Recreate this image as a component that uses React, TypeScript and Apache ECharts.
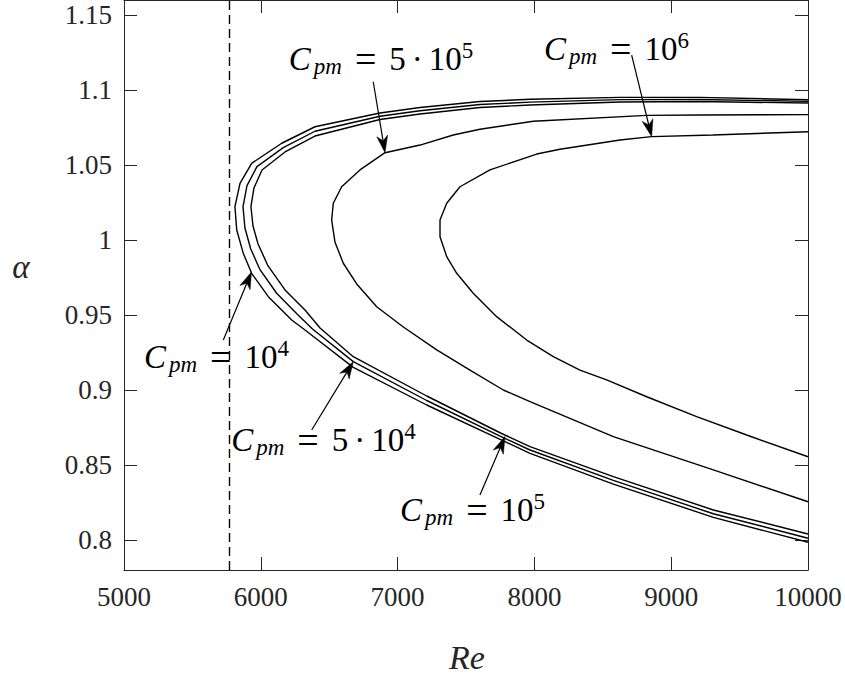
import React, { useEffect, useRef } from "react";
import * as echarts from "echarts";

// ---- axis ticks ----
const xTicks = [5000, 6000, 7000, 8000, 9000, 10000];
const yTicks = [0.8, 0.85, 0.9, 0.95, 1, 1.05, 1.1, 1.15];
const criticalRe = 5772;

// ---- neutral curves (Re, alpha) ----
const re1e4 = [10000, 9210, 8626, 7968, 7602, 7164, 6871, 6396, 6153, 5933, 5848, 5811, 5824, 5872, 5933, 6055, 6226, 6323, 6676, 7213, 7749, 7968, 8577, 9308, 10000];
const alpha1e4 = [1.0935, 1.0951, 1.0951, 1.0938, 1.0923, 1.0883, 1.0847, 1.0755, 1.0645, 1.0511, 1.0378, 1.0222, 1.0067, 0.9911, 0.9778, 0.9622, 0.9467, 0.94, 0.9151, 0.89, 0.8671, 0.8578, 0.8373, 0.8151, 0.7985];

const re5e4 = [10000, 9210, 8626, 7968, 7602, 7164, 6871, 6396, 6164, 5972, 5899, 5870, 5884, 5926, 5994, 6116, 6272, 6378, 6676, 7213, 7749, 7968, 8577, 9308, 10000];
const alpha5e4 = [1.0924, 1.0937, 1.0936, 1.0919, 1.0903, 1.0862, 1.0825, 1.0725, 1.0616, 1.0489, 1.0363, 1.0222, 1.008, 0.9942, 0.9802, 0.9645, 0.95, 0.9407, 0.9189, 0.893, 0.8693, 0.86, 0.8398, 0.8175, 0.8012];

const re1e5 = [10000, 9210, 8626, 7968, 7602, 7164, 6871, 6396, 6177, 6009, 5950, 5928, 5943, 5980, 6053, 6177, 6323, 6433, 6676, 7213, 7749, 7968, 8577, 9308, 10000];
const alpha1e5 = [1.0913, 1.0923, 1.092, 1.09, 1.0883, 1.084, 1.0803, 1.0693, 1.0587, 1.0467, 1.0347, 1.0222, 1.0093, 0.9973, 0.9827, 0.9667, 0.9533, 0.9413, 0.9222, 0.896, 0.8715, 0.8622, 0.8422, 0.82, 0.804];

const re5e5 = [10000, 9210, 8821, 7992, 7602, 7407, 7164, 6908, 6725, 6591, 6530, 6518, 6542, 6603, 6701, 6847, 7042, 7286, 7529, 7773, 7968, 8577, 9308, 10000];
const alpha5e5 = [1.0836, 1.0833, 1.0831, 1.0792, 1.0738, 1.07, 1.0633, 1.0582, 1.0467, 1.0355, 1.0245, 1.0133, 0.9987, 0.9845, 0.9707, 0.9555, 0.942, 0.9267, 0.9133, 0.9, 0.8922, 0.8689, 0.8467, 0.8255];

const re1e6 = [10000, 9305, 8857, 8626, 8187, 8017, 7675, 7456, 7359, 7310, 7310, 7359, 7432, 7553, 7724, 7944, 8138, 8333, 8528, 8821, 9186, 9552, 10000];
const alpha1e6 = [1.0722, 1.07, 1.0689, 1.0667, 1.0605, 1.0573, 1.0467, 1.0355, 1.0245, 1.0133, 1.0022, 0.9889, 0.9778, 0.9645, 0.9489, 0.9333, 0.9222, 0.9133, 0.9067, 0.8955, 0.8822, 0.87, 0.8555];

const curveNames = ["Cpm = 1e4", "Cpm = 5e4", "Cpm = 1e5", "Cpm = 5e5", "Cpm = 1e6"];
const curveRe = [re1e4, re5e4, re1e5, re5e5, re1e6];
const curveAlpha = [alpha1e4, alpha5e4, alpha1e5, alpha5e5, alpha1e6];

// ---- annotations (data coordinates) ----
const annotMantissa = ["", "5", "", "5", ""];
const annotExponent = ["4", "4", "5", "5", "6"];
const labelRe = [5676, 6458, 7548, 6879, 8600];
const labelAlpha = [0.922, 0.867, 0.8197, 1.1207, 1.1273];
const arrowTailRe = [5726, 6372, 7602, 6822, 8711];
const arrowTailAlpha = [0.9333, 0.8733, 0.83, 1.1055, 1.1233];
const arrowTipRe = [5932, 6676, 7785, 6908, 8857];
const arrowTipAlpha = [0.9787, 0.9189, 0.869, 1.0582, 1.0689];

const SERIF = "Liberation Serif";
const INK = "#000000";
const AXIS = "#262626";

const zip = (xs: number[], ys: number[]) => xs.map((x, i) => [x, ys[i]]);

const rich: any = {
  c: { fontFamily: SERIF, fontStyle: "italic", fontSize: 33, lineHeight: 40, fill: INK, color: INK, padding: [0, 3, 0, 0] },
  s: { fontFamily: SERIF, fontStyle: "italic", fontSize: 23, fill: INK, color: INK, verticalAlign: "bottom", padding: [0, 0, 1, 0] },
  eq: { fontFamily: SERIF, fontSize: 38, lineHeight: 40, fill: INK, color: INK, padding: [0, 13, 0, 13] },
  n: { fontFamily: SERIF, fontSize: 33, lineHeight: 40, fill: INK, color: INK },
  dot: { fontFamily: SERIF, fontSize: 33, lineHeight: 40, fill: INK, color: INK, padding: [0, 6, 0, 6] },
  e: { fontFamily: SERIF, fontSize: 23, fill: INK, color: INK, verticalAlign: "top", padding: [0, 0, 0, 0] },
};

const labelText = (m: string, e: string) =>
  "{c|C}{s|pm}{eq|=}" + (m ? `{n|${m}}{dot|·}` : "") + `{n|10}{e|${e}}`;

export default function App() {
  const ref = useRef<HTMLDivElement>(null);
  useEffect(() => {
    const chart = echarts.init(ref.current!, null, { renderer: "svg" });
    const axisLine = { show: true, onZero: false, lineStyle: { color: AXIS, width: 1 } };
    const tick = { show: true, inside: true, length: 13, lineStyle: { color: AXIS, width: 1 } };
    const option: any = {
      animation: false,
      backgroundColor: "#ffffff",
      textStyle: { fontFamily: SERIF },
      grid: { left: 124, right: 37, top: 0, bottom: 107, containLabel: false },
      xAxis: [
        {
          type: "value", min: xTicks[0], max: xTicks[xTicks.length - 1], interval: 1000, position: "bottom",
          axisLine, axisTick: tick, splitLine: { show: false },
          axisLabel: {
            show: true, margin: 13, fontFamily: SERIF, fontSize: 27, color: AXIS, showMinLabel: true, showMaxLabel: true,
            formatter: (v: number) => String(Math.round(v)),
          },
        },
        {
          type: "value", min: xTicks[0], max: xTicks[xTicks.length - 1], interval: 1000, position: "top",
          axisLine, axisTick: tick, splitLine: { show: false }, axisLabel: { show: false },
        },
      ],
      yAxis: [
        {
          type: "value", min: 0.78, max: 1.16, position: "left",
          axisLine, axisTick: { ...tick, customValues: yTicks }, splitLine: { show: false },
          axisLabel: {
            show: true, customValues: yTicks, margin: 12, fontFamily: SERIF, fontSize: 27, color: AXIS,
            formatter: (v: number) => String(parseFloat(Number(v).toFixed(2))),
          },
        },
        {
          type: "value", min: 0.78, max: 1.16, position: "right",
          axisLine, axisTick: { ...tick, customValues: yTicks }, splitLine: { show: false }, axisLabel: { show: false },
        },
      ],
      series: curveNames.map((name, i) => ({
        name,
        type: "line",
        xAxisIndex: 0,
        yAxisIndex: 0,
        data: zip(curveRe[i], curveAlpha[i]),
        showSymbol: false,
        symbol: "none",
        silent: true,
        lineStyle: { color: INK, width: 1.4 },
        ...(i === 0
          ? {
              markLine: {
                silent: true,
                symbol: ["none", "none"],
                label: { show: false },
                lineStyle: { color: INK, width: 1.4, type: [9, 5] },
                data: [{ xAxis: criticalRe }],
              },
            }
          : {}),
      })),
    };
    chart.setOption(option);

    const toPx = (re: number, a: number) => chart.convertToPixel({ seriesIndex: 0 }, [re, a]) as number[];
    const graphics: any[] = [];
    for (let i = 0; i < annotExponent.length; i++) {
      const [tx, ty] = toPx(arrowTailRe[i], arrowTailAlpha[i]);
      const [px, py] = toPx(arrowTipRe[i], arrowTipAlpha[i]);
      const dx = px - tx, dy = py - ty;
      const len = Math.hypot(dx, dy);
      const ux = dx / len, uy = dy / len;
      const nx = -uy, ny = ux;
      const L = 17, W = 5.5, N = 12;
      graphics.push({
        type: "line", silent: true, z: 10,
        shape: { x1: tx, y1: ty, x2: px - ux * N, y2: py - uy * N },
        style: { stroke: INK, lineWidth: 1.2 },
      });
      graphics.push({
        type: "polygon", silent: true, z: 10,
        shape: {
          points: [
            [px, py],
            [px - ux * L + nx * W, py - uy * L + ny * W],
            [px - ux * N, py - uy * N],
            [px - ux * L - nx * W, py - uy * L - ny * W],
          ],
        },
        style: { fill: INK, stroke: INK, lineWidth: 0.5 },
      });
      const [lx, ly] = toPx(labelRe[i], labelAlpha[i]);
      graphics.push({
        type: "text", silent: true, z: 11, x: lx, y: ly,
        style: {
          text: labelText(annotMantissa[i], annotExponent[i]),
          rich,
          fontFamily: SERIF,
          fill: INK,
          align: "center", textAlign: "center",
          verticalAlign: "middle", textVerticalAlign: "middle",
        },
      });
    }
    graphics.push({
      type: "text", silent: true, x: 21, y: 267,
      style: { text: "α", fontFamily: SERIF, fontStyle: "italic", fontSize: 33, fill: AXIS, align: "center", textAlign: "center", verticalAlign: "middle", textVerticalAlign: "middle" },
    });
    graphics.push({
      type: "text", silent: true, x: 467, y: 657,
      style: { text: "Re", fontFamily: SERIF, fontStyle: "italic", fontSize: 34, fill: AXIS, align: "center", textAlign: "center", verticalAlign: "middle", textVerticalAlign: "middle" },
    });
    chart.setOption({ graphic: graphics });

    return () => chart.dispose();
  }, []);
  return (
    <div
      ref={ref}
      style={{ position: "fixed", left: 0, top: 0, width: 845, height: 677, background: "#ffffff" }}
    />
  );
}
